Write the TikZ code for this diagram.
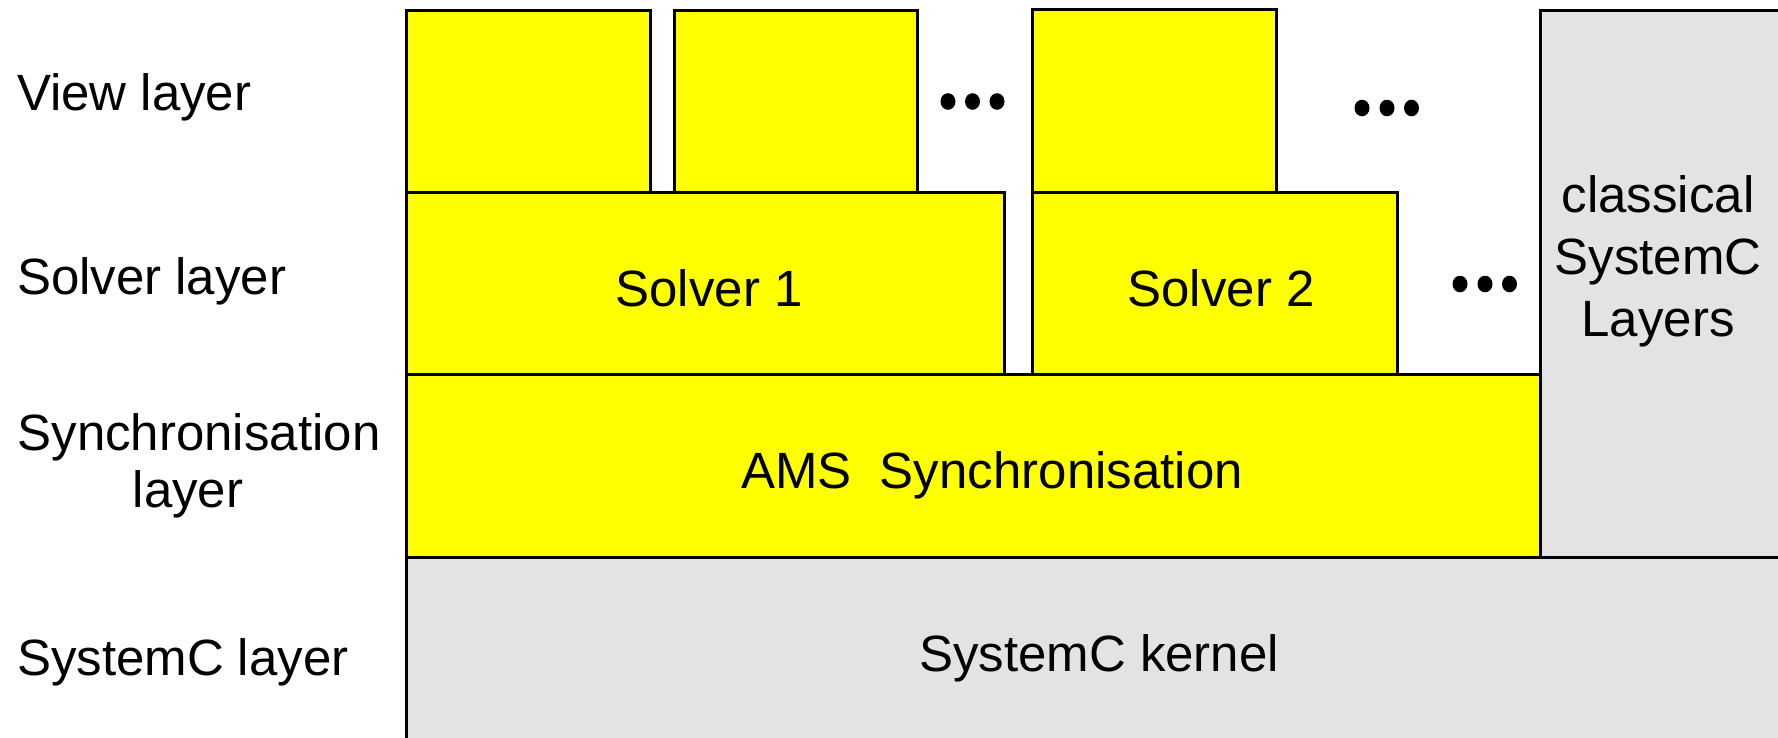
\documentclass[tikz,border=0pt]{standalone}
\usepackage{fontspec}
\setmainfont{Liberation Sans}
\definecolor{yel}{RGB}{255,255,0}
\definecolor{lgrey}{RGB}{227,227,227}
\begin{document}
\begin{tikzpicture}[x=1pt,y=-1pt,
  every node/.style={inner sep=0pt,outer sep=0pt},
  yellowbox/.style={draw=black,line width=3pt,fill=yel,anchor=north west},
  greybox/.style={draw=black,line width=3pt,fill=lgrey,anchor=north west},
  lbl/.style={font=\fontsize{51}{57}\selectfont,anchor=base}]
\useasboundingbox (0,0) rectangle (1778,737);
\clip (0,0) rectangle (1778,737);
% grey boxes
\node[greybox,minimum width=1450pt,minimum height=250pt] (kernel) at (406,557) {};
\node[greybox,minimum width=300pt,minimum height=547pt] (classic) at (1540,10) {};
% yellow boxes
\node[yellowbox,minimum width=1134pt,minimum height=183pt] (ams) at (406,374) {};
\node[yellowbox,minimum width=598pt,minimum height=182pt] (solver1) at (406,192) {};
\node[yellowbox,minimum width=365pt,minimum height=182pt] (solver2) at (1032,192) {};
\node[yellowbox,minimum width=244pt,minimum height=182pt] (view1) at (406,10) {};
\node[yellowbox,minimum width=243pt,minimum height=182pt] (view2) at (674,10) {};
\node[yellowbox,minimum width=244pt,minimum height=183pt] (view3) at (1032,9) {};
% dots
\foreach \x in {948,972.5,997} \fill (\x,101.5) ellipse (7.5pt and 8.3pt);
\foreach \x in {1362,1387,1411.5} \fill (\x,108) ellipse (7.5pt and 8.3pt);
\foreach \x in {1460,1485,1509.5} \fill (\x,284) ellipse (7.5pt and 8.3pt);
% texts in boxes
\node[lbl] (t-s1) at (709,306) {Solver 1};
\node[lbl] (t-s2) at (1221,306) {Solver 2};
\node[lbl] (t-ams) at (992,488) {AMS\ \ Synchronisation};
\node[lbl] (t-kern) at (1099,671) {SystemC kernel};
\node[lbl,font=\fontsize{51}{62}\selectfont,align=center] (t-class) at (1658,336) {classical\\SystemC\\Layers};
% layer labels
\node[lbl,anchor=base west] (l-view) at (17,110) {View layer};
\node[lbl,anchor=base west] (l-solver) at (17,294) {Solver layer};
\node[lbl,align=center] (l-sync) at (199,507) {Synchronisation\\layer\hspace*{22pt}};
\node[lbl,anchor=base west] (l-sysc) at (17,675) {SystemC layer};
\end{tikzpicture}
\end{document}
